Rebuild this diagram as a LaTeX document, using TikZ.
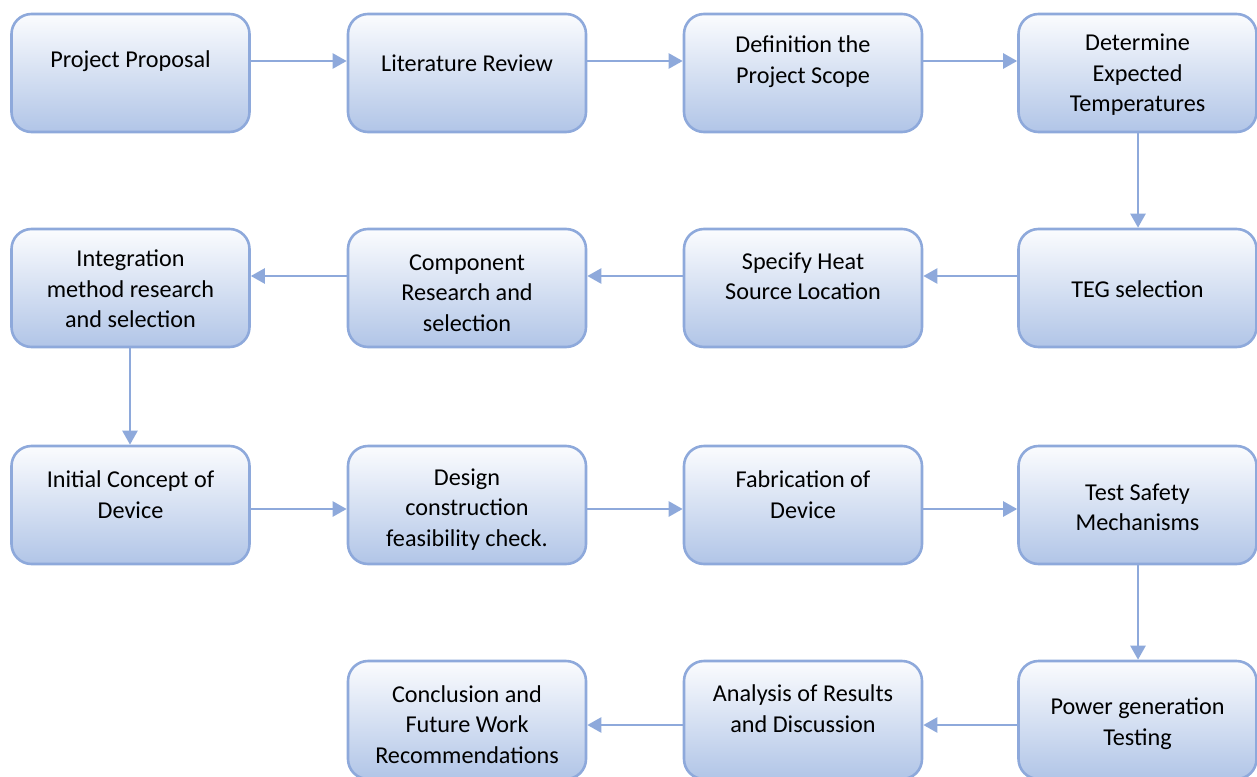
\documentclass[tikz,border=0pt]{standalone}
\usepackage{fontspec}
\setmainfont{Carlito}
\usetikzlibrary{arrows.meta,calc}
\definecolor{bordc}{HTML}{8EA9DB}
\definecolor{topc}{HTML}{FBFCFE}
\definecolor{midc}{HTML}{E2E9F5}
\definecolor{botc}{HTML}{B1C5E7}
\tikzset{
  stepbox/.style={draw=bordc, line width=2.6pt, rounded corners=20pt,
    minimum width=238pt, minimum height=118pt, inner sep=0pt,
    top color=topc, middle color=midc, bottom color=botc},
  steptext/.style={align=center, inner sep=0pt, text=black,
    font=\fontsize{24.2}{30.5}\selectfont},
  flow/.style={draw=bordc, line width=2.4pt, -{Triangle[length=14pt,width=15pt]}, color=bordc}
}
\begin{document}
\begin{tikzpicture}[x=1pt,y=-1pt]
\useasboundingbox (0,0) rectangle (1257,776);
\clip (0,0) rectangle (1257,776);
% row 1
\node[stepbox] (pp)  at (130.5,73) {};
\node[stepbox] (lr)  at (467,73) {};
\node[stepbox] (dps) at (803,73) {};
\node[stepbox] (det) at (1137.5,73) {};
% row 2
\node[stepbox] (imr) at (130.5,288) {};
\node[stepbox] (crs) at (467,288) {};
\node[stepbox] (shs) at (803,288) {};
\node[stepbox] (teg) at (1137.5,288) {};
% row 3
\node[stepbox] (icd) at (130.5,505) {};
\node[stepbox] (dcf) at (467,505) {};
\node[stepbox] (fd)  at (803,505) {};
\node[stepbox] (tsm) at (1137.5,505) {};
% row 4
\node[stepbox] (cfw) at (467,720) {};
\node[stepbox] (ard) at (803,720) {};
\node[stepbox] (pgt) at (1137.5,720) {};
% texts
\node[steptext] (tpp)  at (130.5,61) {Project Proposal};
\node[steptext] (tlr)  at (467,63) {Literature Review};
\node[steptext] (tdps) at (803,61.5) {Definition the\\Project Scope};
\node[steptext] (tdet) at (1137.5,75) {Determine\\Expected\\Temperatures};
\node[steptext] (timr) at (130.5,289) {Integration\\method research\\and selection};
\node[steptext] (tcrs) at (467,293) {Component\\Research and\\selection};
\node[steptext] (tshs) at (803,276.5) {Specify Heat\\Source Location};
\node[steptext] (tteg) at (1137.5,289) {TEG selection};
\node[steptext] (ticd) at (130.5,494.5) {Initial Concept of\\Device};
\node[steptext] (tdcf) at (467,509.5) {Design\\construction\\feasibility check.};
\node[steptext] (tfd)  at (803,494.5) {Fabrication of\\Device};
\node[steptext] (ttsm) at (1137.5,507.5) {Test Safety\\Mechanisms};
\node[steptext] (tcfw) at (467,724.5) {Conclusion and\\Future Work\\Recommendations};
\node[steptext] (tard) at (803,708.5) {Analysis of Results\\and Discussion};
\node[steptext] (tpgt) at (1137.5,723.5) {Power generation\\Testing};
% arrow levels
\coordinate (r1) at (0,61);
\coordinate (r2) at (0,276);
\coordinate (r3) at (0,509);
\coordinate (r4) at (0,725);
\coordinate (c1) at (130,0);
\coordinate (c4) at (1138,0);
% connectors
\draw[flow] (pp.east |- r1) -- (lr.west |- r1);
\draw[flow] (lr.east |- r1) -- (dps.west |- r1);
\draw[flow] (dps.east |- r1) -- (det.west |- r1);
\draw[flow] (det.south -| c4) -- (teg.north -| c4);
\draw[flow] (teg.west |- r2) -- (shs.east |- r2);
\draw[flow] (shs.west |- r2) -- (crs.east |- r2);
\draw[flow] (crs.west |- r2) -- (imr.east |- r2);
\draw[flow] (imr.south -| c1) -- (icd.north -| c1);
\draw[flow] (icd.east |- r3) -- (dcf.west |- r3);
\draw[flow] (dcf.east |- r3) -- (fd.west |- r3);
\draw[flow] (fd.east |- r3) -- (tsm.west |- r3);
\draw[flow] (tsm.south -| c4) -- (pgt.north -| c4);
\draw[flow] (pgt.west |- r4) -- (ard.east |- r4);
\draw[flow] (ard.west |- r4) -- (cfw.east |- r4);
\end{tikzpicture}
\end{document}
